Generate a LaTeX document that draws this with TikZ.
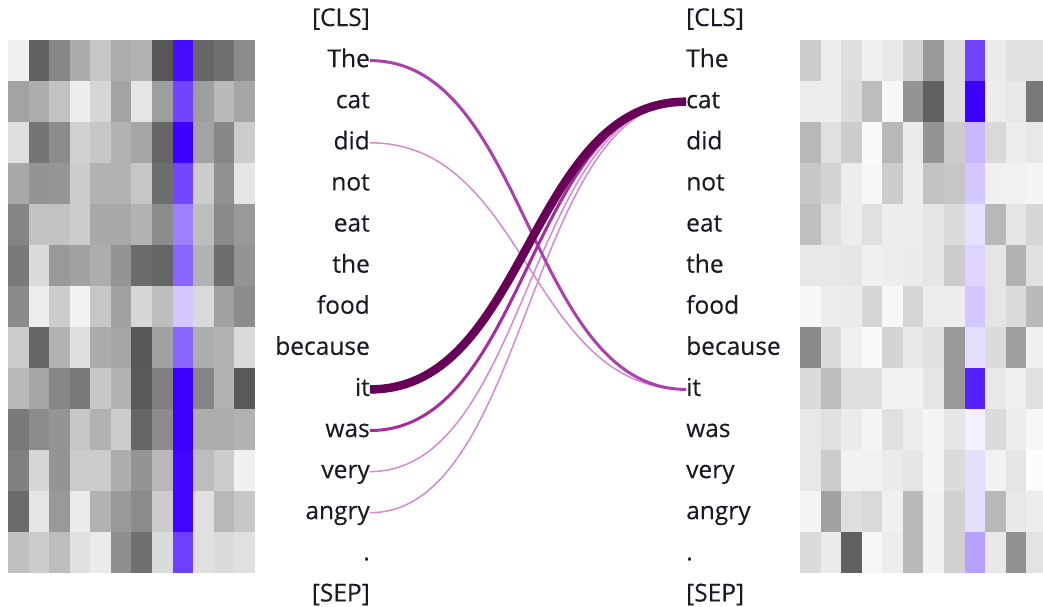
\documentclass[tikz,border=0pt]{standalone}
\usepackage{fontspec}
\setmainfont{Open Sans}[FakeBold=0.25]
\definecolor{hb}{RGB}{60,0,255}
\definecolor{txt}{RGB}{26,26,34}
\definecolor{cthick}{RGB}{104,0,88}
\definecolor{cmed}{RGB}{176,62,170}
\definecolor{cmedb}{RGB}{168,44,160}
\definecolor{cthin}{RGB}{214,136,212}
\begin{document}
\begin{tikzpicture}[x=1pt,y=-1pt,
  tok/.style={font=\fontsize{24.5}{28}\selectfont, text=txt, inner sep=0pt, text height=13pt, text depth=0pt},
  ltok/.style={tok,anchor=east},
  rtok/.style={tok,anchor=west},
  thinlink/.style={draw=cthin, line width=1.5pt},
  medlink/.style={draw=cmed, line width=3pt},
  medlinkb/.style={draw=cmedb, line width=3pt},
  thicklink/.style={draw=cthick, line width=8.5pt}]
\useasboundingbox (0,0) rectangle (1043,606);
\begin{scope}
\clip (0,0) rectangle (1043,606);
% left heatmap
\begin{scope}[shift={(8,40)}, x=20.58pt, y=-41pt]
\foreach \row [count=\r] in {
 {94,38,53,67,78,68,70,34,95,40,44,55},
 {64,68,76,93,84,64,90,62,73,62,73,65},
 {87,46,55,82,78,70,65,40,100,64,53,80},
 {66,58,59,80,70,70,78,43,72,80,57,90},
 {52,76,76,80,66,66,70,55,50,74,54,60},
 {48,86,60,63,68,58,42,40,60,70,43,58},
 {54,93,80,95,78,63,84,74,22,85,63,55},
 {80,40,70,87,67,65,34,63,60,68,70,85},
 {73,65,53,48,78,70,35,50,100,52,70,35},
 {48,55,58,78,70,80,40,55,100,68,68,70},
 {50,84,58,80,80,68,58,72,98,74,80,94},
 {42,90,60,92,70,60,55,80,98,88,72,78},
 {75,80,74,88,92,56,44,86,75,88,86,88}}{
  \foreach \v [count=\c] in \row {
    \ifnum\c=9
      \fill[hb!\v!white] (\c-1,\r-1) rectangle (\c,\r);
    \else
      \fill[white!\v!black] (\c-1,\r-1) rectangle (\c,\r);
    \fi
  }
}
\end{scope}
% right heatmap
\begin{scope}[shift={(800,40)}, x=20.58pt, y=-41pt]
\foreach \row [count=\r] in {
 {80,93,87,94,91,83,60,87,73,92,88,88},
 {93,93,86,74,97,58,38,87,100,93,91,47},
 {72,88,80,98,72,92,58,80,28,85,93,91},
 {78,83,93,97,80,93,76,78,22,94,95,96},
 {75,88,93,88,93,93,90,86,12,72,90,84},
 {91,91,90,94,93,92,90,80,17,90,70,88},
 {97,93,92,84,97,84,93,93,22,90,86,73},
 {54,86,94,98,83,91,88,60,13,86,62,94},
 {86,74,87,87,95,95,90,60,87,91,94,88},
 {91,88,92,96,88,93,96,90,6,86,93,97},
 {91,80,95,95,92,90,96,86,13,95,90,99},
 {96,63,87,85,94,73,95,82,13,72,91,93},
 {86,92,38,97,93,73,95,82,37,91,57,89}}{
  \foreach \v [count=\c] in \row {
    \ifnum\c=9
      \fill[hb!\v!white] (\c-1,\r-1) rectangle (\c,\r);
    \else
      \fill[white!\v!black] (\c-1,\r-1) rectangle (\c,\r);
    \fi
  }
}
\end{scope}
\end{scope}
% tokens
\foreach \t [count=\i from 0] in {{[CLS]},The,cat,did,not,eat,the,food,because,it,was,very,angry,{.},{[SEP]}}{
  \node[ltok] (l\i) at (370,{19.5+41.1*\i}) {\t};
  \node[rtok] (r\i) at (686,{19.5+41.1*\i}) {\t};
}
% connectors
\draw[thinlink] (l3.east) .. controls +(158,0) and +(-158,0) .. (r9.west);
\draw[thinlink] (l11.east) .. controls +(158,0) and +(-158,0) .. (r2.west);
\draw[thinlink] (l12.east) .. controls +(158,0) and +(-158,0) .. (r2.west);
\draw[medlink] (l1.east) .. controls +(158,0) and +(-158,0) .. (r9.west);
\draw[medlinkb] (l10.east) .. controls +(158,0) and +(-158,0) .. (r2.west);
\draw[thicklink] (l9.east) .. controls +(158,0) and +(-158,0) .. (r2.west);
\end{tikzpicture}
\end{document}
